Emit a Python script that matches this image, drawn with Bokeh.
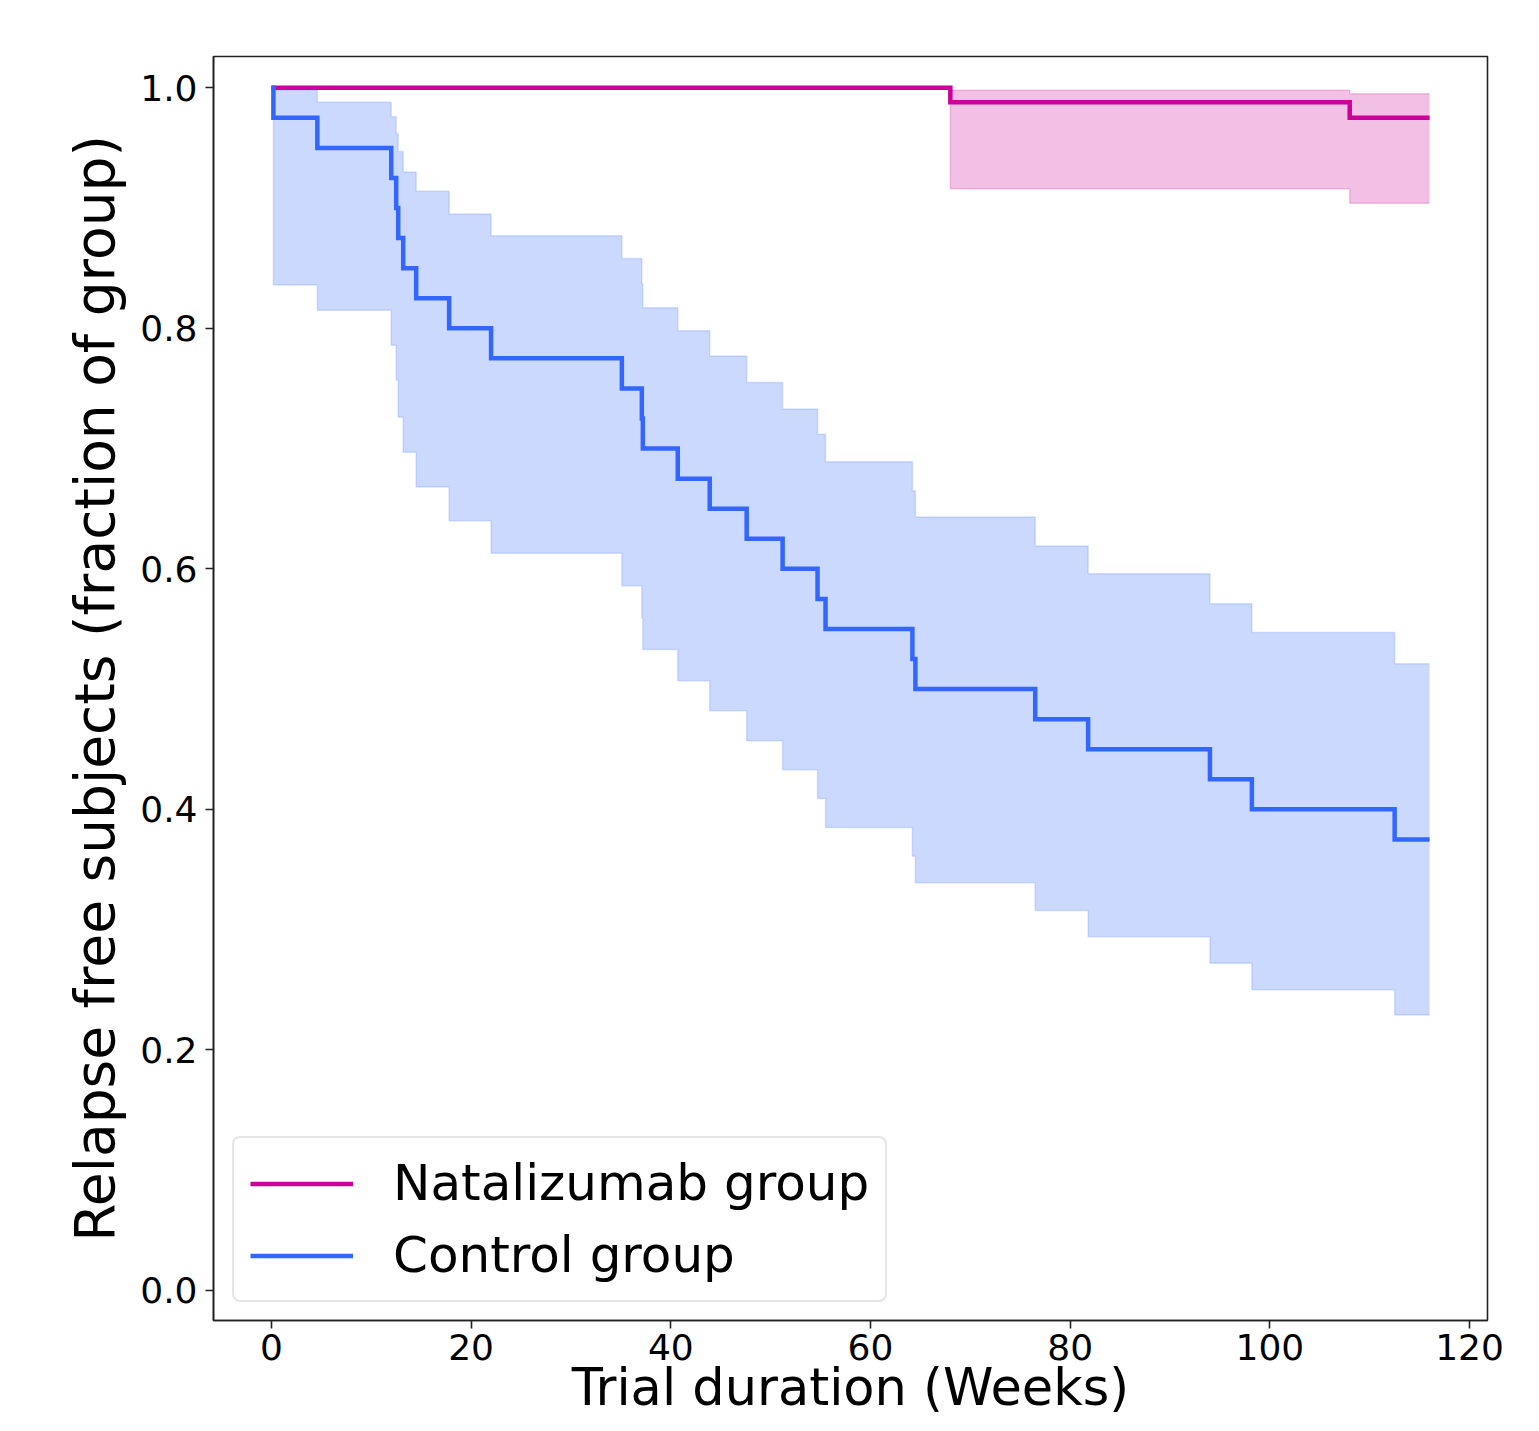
from bokeh.plotting import figure
from bokeh.models import Range1d, FixedTicker, PrintfTickFormatter, Legend, LegendItem
from bokeh.embed import file_html
from bokeh.resources import INLINE

# Control group Kaplan-Meier estimate and confidence band
ctrl_t = [0.0, 0.2, 4.6, 12.0, 12.5, 12.7, 13.2, 14.5, 17.8, 22.0, 35.1, 37.1, 37.2,
          40.7, 43.9, 47.6, 51.2, 54.7, 55.5, 64.2, 64.5, 76.5, 81.8, 94.0, 98.2, 112.5, 116.0]
ctrl_s = [1.0, 0.975, 0.95, 0.925, 0.9, 0.875, 0.85, 0.825, 0.8, 0.775, 0.75, 0.725, 0.7,
          0.675, 0.65, 0.625, 0.6, 0.575, 0.55, 0.525, 0.5, 0.475, 0.45, 0.425, 0.4, 0.375, 0.375]
ctrl_hi = [1.0, 0.998, 0.988, 0.976, 0.962, 0.947, 0.930, 0.914, 0.895, 0.877, 0.858, 0.837, 0.817,
           0.798, 0.777, 0.755, 0.733, 0.712, 0.689, 0.665, 0.643, 0.619, 0.596, 0.571, 0.547, 0.521, 0.521]
ctrl_lo = [1.0, 0.836, 0.815, 0.786, 0.757, 0.726, 0.697, 0.668, 0.640, 0.613, 0.586, 0.559, 0.533,
           0.507, 0.482, 0.457, 0.433, 0.409, 0.385, 0.361, 0.339, 0.316, 0.294, 0.272, 0.250, 0.229, 0.229]

# Natalizumab group
nat_t = [0.0, 68.0, 108.0, 116.0]
nat_s = [1.0, 0.988, 0.975, 0.975]
nat_hi = [1.0, 0.998, 0.995, 0.995]
nat_lo = [1.0, 0.916, 0.904, 0.904]

x_ticks = [0, 20, 40, 60, 80, 100, 120]
y_ticks = [0.0, 0.2, 0.4, 0.6, 0.8, 1.0]

x_title = "Trial duration (Weeks)"
y_title = "Relapse free subjects (fraction of group)"

NAT_COLOR = "#cc0099"
CTRL_COLOR = "#3366ff"
FONT = "DejaVu Sans"

p = figure(width=1531, height=1431, output_backend="svg", toolbar_location=None,
           x_range=Range1d(-5.8, 121.8), y_range=Range1d(-0.025, 1.026),
           min_border_left=213, min_border_right=44, min_border_top=56, min_border_bottom=111)

p.background_fill_color = "white"
p.border_fill_color = "white"
p.grid.visible = False
p.outline_line_color = "#222222"
p.outline_line_width = 1.6

# bands
p.varea_step(x=nat_t, y1=nat_lo, y2=nat_hi, step_mode="after",
             fill_color=NAT_COLOR, fill_alpha=0.25)
p.step(x=nat_t, y=nat_hi, mode="after", line_color=NAT_COLOR, line_alpha=0.2, line_width=1.5)
p.step(x=nat_t, y=nat_lo, mode="after", line_color=NAT_COLOR, line_alpha=0.2, line_width=1.5)

p.varea_step(x=ctrl_t, y1=ctrl_lo, y2=ctrl_hi, step_mode="after",
             fill_color=CTRL_COLOR, fill_alpha=0.25)
p.step(x=ctrl_t, y=ctrl_hi, mode="after", line_color=CTRL_COLOR, line_alpha=0.18, line_width=1.5)
p.step(x=ctrl_t, y=ctrl_lo, mode="after", line_color=CTRL_COLOR, line_alpha=0.18, line_width=1.5)

# survival lines
r_nat = p.step(x=nat_t, y=nat_s, mode="after", line_color=NAT_COLOR, line_width=4.5,
               line_join="miter")
r_ctrl = p.step(x=ctrl_t, y=ctrl_s, mode="after", line_color=CTRL_COLOR, line_width=4.5,
                line_join="miter")

# axes
for ax in (p.xaxis[0], p.yaxis[0]):
    ax.major_label_text_font = FONT
    ax.major_label_text_font_size = "36px"
    ax.major_label_text_color = "black"
    ax.axis_label_text_font = FONT
    ax.axis_label_text_font_style = "normal"
    ax.axis_label_text_color = "black"
    ax.major_tick_in = 0
    ax.major_tick_out = 8
    ax.major_tick_line_width = 1.6
    ax.major_tick_line_color = "#222222"
    ax.minor_tick_line_color = None
    ax.axis_line_color = "#222222"
    ax.axis_line_width = 1.6

p.xaxis.ticker = FixedTicker(ticks=x_ticks)
p.yaxis.ticker = FixedTicker(ticks=y_ticks)
p.yaxis.formatter = PrintfTickFormatter(format="%.1f")
p.xaxis.axis_label = x_title
p.xaxis.axis_label_text_font_size = "51px"
p.yaxis.axis_label = y_title
p.yaxis.axis_label_text_font_size = "55px"
p.xaxis.major_label_standoff = 5
p.xaxis.axis_label_standoff = -5
p.yaxis.major_label_standoff = 8
p.yaxis.axis_label_standoff = 10

legend = Legend(items=[LegendItem(label="Natalizumab group", renderers=[r_nat]),
                       LegendItem(label="Control group", renderers=[r_ctrl])],
                location=(19, 18))
legend.label_text_font = FONT
legend.label_text_font_size = "50px"
legend.label_text_color = "black"
legend.glyph_width = 103
legend.glyph_height = 57
legend.label_height = 57
legend.label_standoff = 40
legend.padding = 16
legend.spacing = 14
legend.margin = 0
legend.border_line_color = "#cccccc"
legend.border_line_width = 2
legend.border_radius = 8
legend.background_fill_color = "white"
legend.background_fill_alpha = 0.8
p.add_layout(legend, "center")

open("out.html", "w").write(file_html(p, INLINE))
